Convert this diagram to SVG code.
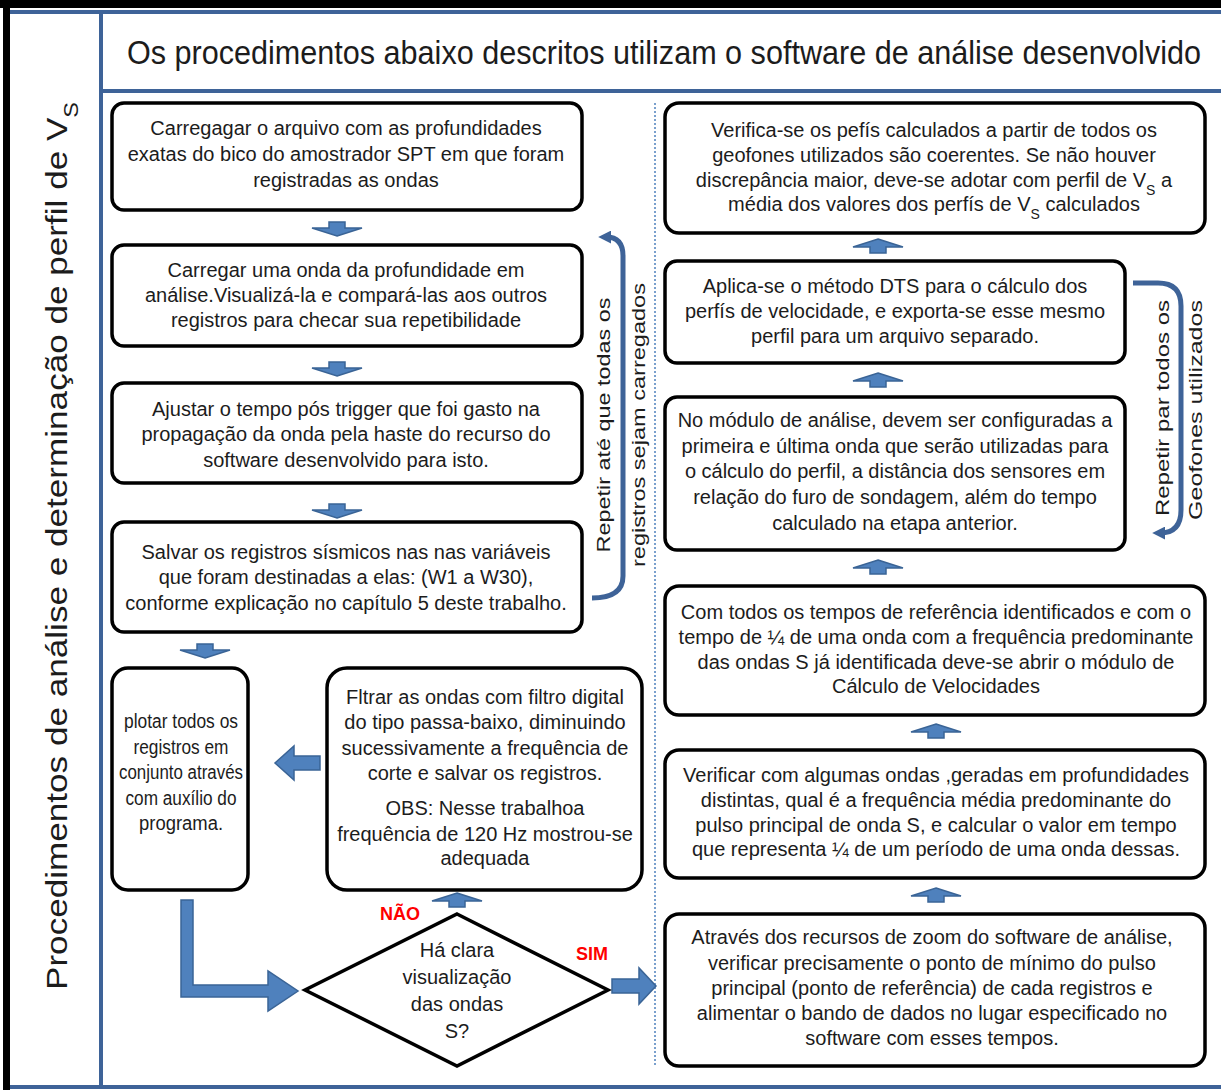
<svg xmlns="http://www.w3.org/2000/svg" xmlns:xlink="http://www.w3.org/1999/xlink" width="1221" height="1090" viewBox="0 0 1221 1090">
<style>
.box{fill:#fff;stroke:#000;stroke-width:3.5}
.t{font-family:"Liberation Sans",Arial,sans-serif;font-size:20px;fill:#1c1c1c;text-anchor:middle}
.blk{fill:#4F81BD;stroke:#3A6496;stroke-width:1.5}
.loop{fill:none;stroke:#3E6398;stroke-width:5}
.red{font-family:"Liberation Sans",Arial,sans-serif;fill:#FF0000;font-weight:bold;font-size:18px;text-anchor:middle}
.frame{stroke:#3E6398;stroke-width:4}
.sub{font-size:14px}
</style>
<defs>
<path id="up" class="blk" d="M0,-8 L25,0 L8,0 L8,6 L-8,6 L-8,0 L-25,0 Z"/>
<path id="dn" class="blk" d="M0,8 L25,0 L8,0 L8,-6 L-8,-6 L-8,0 L-25,0 Z"/>
<marker id="ah" viewBox="0 0 10 10" refX="4" refY="5" markerWidth="2.6" markerHeight="2.6" orient="auto">
<path d="M0,0 L10,5 L0,10 Z" fill="#3E6398"/>
</marker>
</defs>
<rect x="0" y="0" width="1221" height="1090" fill="#fff"/>
<g id="frame">
<rect x="0" y="0" width="1221" height="8" fill="#000"/>
<rect x="3" y="0" width="7" height="1090" fill="#000"/>
<line class="frame" x1="10" y1="12" x2="1221" y2="12"/>
<line class="frame" x1="101" y1="12" x2="101" y2="1087"/>
<line class="frame" x1="101" y1="91" x2="1221" y2="91"/>
<line class="frame" x1="10" y1="1087" x2="1221" y2="1087"/>
<line x1="655" y1="103" x2="655" y2="1065" stroke="#4F81BD" stroke-width="1.5" stroke-dasharray="2,2"/>
</g>
<g id="header">
<text class="t" transform="translate(664,64) scale(1,1.13)" style="font-size:29px" textLength="1074" lengthAdjust="spacingAndGlyphs">Os procedimentos abaixo descritos utilizam o software de análise desenvolvido</text>
</g>
<g id="title">
<text class="t" transform="translate(67,990) rotate(-90)" style="font-size:30px;text-anchor:start" textLength="888" lengthAdjust="spacingAndGlyphs">Procedimentos de análise e determinação de perfil de V<tspan style="font-size:20px" baseline-shift="sub">S</tspan></text>
</g>
<g id="connectors">
<use xlink:href="#dn" x="337" y="228"/>
<use xlink:href="#dn" x="337" y="368"/>
<use xlink:href="#dn" x="337" y="510"/>
<use xlink:href="#dn" x="205" y="650"/>
<use xlink:href="#up" x="457" y="901"/>
<use xlink:href="#up" x="878" y="247"/>
<use xlink:href="#up" x="878" y="381"/>
<use xlink:href="#up" x="878" y="568"/>
<use xlink:href="#up" x="936" y="732"/>
<use xlink:href="#up" x="936" y="896"/>
<polygon class="blk" points="320,756 294,756 294,746 275,763 294,780 294,770 320,770"/>
<polygon class="blk" points="181,900 193,900 193,985 268,985 268,971 298,991 268,1011 268,997 181,997"/>
<polygon class="blk" points="612,979 639,979 639,968 656,986 639,1004 639,993 612,993"/>
<path class="loop" d="M592,598 Q623,598 623,576 L623,256 Q623,237 606,237" marker-end="url(#ah)"/>
<path class="loop" d="M1133,283 L1158,283 Q1181,283 1181,306 L1181,510 Q1181,533 1160,533" marker-end="url(#ah)"/>
</g>
<g id="loop-left-label">
<text class="t" transform="translate(610,425) rotate(-90)" style="font-size:19px" textLength="255" lengthAdjust="spacingAndGlyphs">Repetir até que todas os</text>
<text class="t" transform="translate(645,425) rotate(-90)" style="font-size:19px" textLength="284" lengthAdjust="spacingAndGlyphs">registros  sejam  carregados</text>
</g>
<g id="loop-right-label">
<text class="t" transform="translate(1169,408) rotate(-90)" style="font-size:19px" textLength="216" lengthAdjust="spacingAndGlyphs">Repetir par  todos os</text>
<text class="t" transform="translate(1202,410) rotate(-90)" style="font-size:19px" textLength="220" lengthAdjust="spacingAndGlyphs">Geofones utilizados</text>
</g>
<g id="n1">
<rect class="box" x="112" y="103" width="470" height="107" rx="12"/>
<text class="t" x="346" y="135">Carregagar o arquivo com as profundidades</text>
<text class="t" x="346" y="161">exatas do bico do amostrador SPT em que foram</text>
<text class="t" x="346" y="187">registradas as ondas</text>
</g>
<g id="n2">
<rect class="box" x="112" y="245" width="470" height="101" rx="12"/>
<text class="t" x="346" y="277">Carregar uma onda da profundidade em</text>
<text class="t" x="346" y="302">análise.Visualizá-la e compará-las aos outros</text>
<text class="t" x="346" y="327">registros para checar sua repetibilidade</text>
</g>
<g id="n3">
<rect class="box" x="112" y="383" width="470" height="100" rx="12"/>
<text class="t" x="346" y="416">Ajustar o tempo pós trigger que foi gasto na</text>
<text class="t" x="346" y="441">propagação da onda pela haste do recurso do</text>
<text class="t" x="346" y="467">software desenvolvido para isto.</text>
</g>
<g id="n4">
<rect class="box" x="112" y="522" width="470" height="110" rx="12"/>
<text class="t" x="346" y="559">Salvar os registros sísmicos nas nas variáveis</text>
<text class="t" x="346" y="584">que foram destinadas a elas: (W1 a W30),</text>
<text class="t" x="346" y="610">conforme explicação no capítulo 5 deste trabalho.</text>
</g>
<g id="n5">
<rect class="box" x="112" y="668" width="136" height="222" rx="16"/>
<text class="t" x="181" y="728" textLength="114" lengthAdjust="spacingAndGlyphs">plotar todos os</text>
<text class="t" x="181" y="754" textLength="95" lengthAdjust="spacingAndGlyphs">registros em</text>
<text class="t" x="181" y="779" textLength="124" lengthAdjust="spacingAndGlyphs">conjunto através</text>
<text class="t" x="181" y="805" textLength="111" lengthAdjust="spacingAndGlyphs">com auxílio do</text>
<text class="t" x="181" y="830" textLength="84" lengthAdjust="spacingAndGlyphs">programa.</text>
</g>
<g id="n6">
<rect class="box" x="327" y="668" width="315" height="222" rx="20"/>
<text class="t" x="485" y="704">Fltrar as ondas com filtro digital</text>
<text class="t" x="485" y="729">do tipo passa-baixo, diminuindo</text>
<text class="t" x="485" y="755">sucessivamente a frequência de</text>
<text class="t" x="485" y="780">corte e salvar os registros.</text>
<text class="t" x="485" y="815">OBS: Nesse trabalhoa</text>
<text class="t" x="485" y="841">frequência de 120 Hz mostrou-se</text>
<text class="t" x="485" y="865">adequada</text>
</g>
<g id="n7">
<polygon points="457,914 608,990 457,1066 305,990" fill="#fff" stroke="#000" stroke-width="3.5"/>
<text class="t" x="457" y="957">Há clara</text>
<text class="t" x="457" y="984">visualização</text>
<text class="t" x="457" y="1011">das ondas</text>
<text class="t" x="457" y="1038">S?</text>
<text class="red" x="400" y="920">NÃO</text>
<text class="red" x="592" y="960">SIM</text>
</g>
<g id="r1">
<rect class="box" x="665" y="103" width="540" height="130" rx="14"/>
<text class="t" x="934" y="137">Verifica-se os pefís calculados a partir de todos os</text>
<text class="t" x="934" y="162">geofones utilizados são coerentes. Se não houver</text>
<text class="t" x="934" y="187">discrepância maior, deve-se adotar com perfil de V<tspan class="sub" baseline-shift="sub">S</tspan> a</text>
<text class="t" x="934" y="211">média dos valores dos perfís de V<tspan class="sub" baseline-shift="sub">S</tspan> calculados</text>
</g>
<g id="r2">
<rect class="box" x="665" y="261" width="460" height="102" rx="12"/>
<text class="t" x="895" y="293">Aplica-se o método DTS para o cálculo dos</text>
<text class="t" x="895" y="318">perfís de velocidade, e exporta-se esse mesmo</text>
<text class="t" x="895" y="343">perfil para um arquivo separado.</text>
</g>
<g id="r3">
<rect class="box" x="665" y="397" width="460" height="153" rx="12"/>
<text class="t" x="895" y="427">No módulo de análise, devem ser configuradas a</text>
<text class="t" x="895" y="453">primeira  e última onda que serão utilizadas para</text>
<text class="t" x="895" y="478">o cálculo do perfil, a distância dos sensores em</text>
<text class="t" x="895" y="504">relação do furo de sondagem, além do tempo</text>
<text class="t" x="895" y="530">calculado na etapa anterior.</text>
</g>
<g id="r4">
<rect class="box" x="665" y="586" width="540" height="129" rx="14"/>
<text class="t" x="936" y="619">Com todos os tempos de referência identificados e com  o</text>
<text class="t" x="936" y="644">tempo de ¼ de uma onda com a frequência predominante</text>
<text class="t" x="936" y="669">das ondas S já identificada deve-se abrir o módulo de</text>
<text class="t" x="936" y="693">Cálculo de Velocidades</text>
</g>
<g id="r5">
<rect class="box" x="665" y="750" width="540" height="128" rx="14"/>
<text class="t" x="936" y="782">Verificar com algumas ondas ,geradas em profundidades</text>
<text class="t" x="936" y="807">distintas, qual é a frequência  média predominante do</text>
<text class="t" x="936" y="832">pulso principal de onda S, e calcular o valor em tempo</text>
<text class="t" x="936" y="856">que representa ¼ de um período de uma onda dessas.</text>
</g>
<g id="r6">
<rect class="box" x="665" y="914" width="540" height="152" rx="14"/>
<text class="t" x="932" y="944">Através dos recursos de zoom do software de análise,</text>
<text class="t" x="932" y="970">verificar precisamente o ponto de mínimo do pulso</text>
<text class="t" x="932" y="995">principal (ponto de referência) de cada registros e</text>
<text class="t" x="932" y="1020">alimentar o bando de dados no lugar especificado no</text>
<text class="t" x="932" y="1045">software com esses tempos.</text>
</g>
</svg>
